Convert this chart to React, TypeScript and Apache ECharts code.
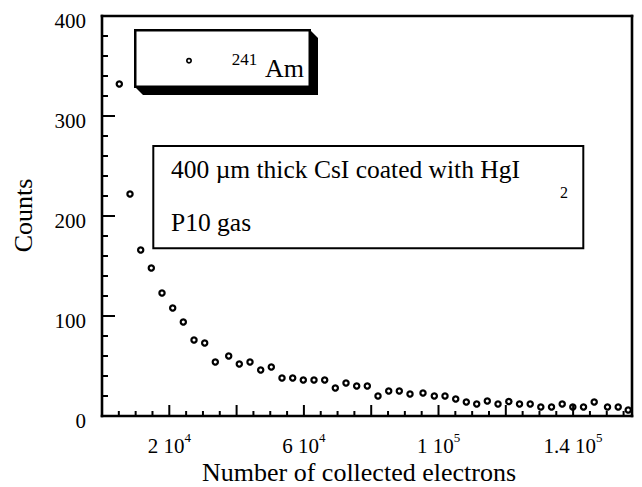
import React, { useEffect, useRef } from 'react';
import * as echarts from 'echarts';

const ELECTRONS = [
  5140, 8320, 11500, 14650, 17830, 21010, 24160, 27340, 30520, 33670,
  37650, 40800, 43980, 47160, 50310, 53490, 56670, 59820, 63000, 66180,
  69330, 72510, 75690, 78840, 82020, 85200, 88350, 91530, 95390, 98750,
  101930, 105110, 108260, 111350, 114500, 117680, 120890, 124070, 127250, 130400,
  133580, 136760, 139910, 143090, 146270, 150220, 153400, 156370,
];
const COUNTS = [
  332, 222, 166, 148, 123, 108, 94, 76, 73, 54,
  60, 52, 54, 46, 49, 38, 38, 36, 36, 36,
  28, 33, 30, 30, 20, 25, 25, 22, 23, 20,
  20, 17, 14, 12, 15, 12, 14.5, 12, 12, 9,
  9, 12, 9, 9, 14, 9, 9, 6,
];
const X_MIN = 0;
const X_MAX = 157500;
const X_MAJOR_STEP = 20000;
const X_MINOR_STEP = 5000;
const Y_MIN = 0;
const Y_MAX = 400;
const Y_MAJOR_STEP = 100;
const Y_MINOR_STEP = 20;
const X_LABEL_VALUES = [20000, 60000, 100000, 140000];
const X_LABEL_MANTISSA = ['2', '6', '1', '1.4'];
const X_LABEL_EXPONENT = ['4', '4', '5', '5'];
const LEGEND_MASS = '241';
const LEGEND_ELEMENT = 'Am';
const NOTE_LINE1 = '400 µm thick CsI coated with HgI';
const NOTE_SUB = '2';
const NOTE_LINE2 = 'P10 gas';
const X_TITLE = 'Number of collected electrons';
const Y_TITLE = 'Counts';

export default function App() {
  const ref = useRef<HTMLDivElement>(null);
  const overlayRef = useRef<HTMLDivElement>(null);
  useEffect(() => {
    const chart = echarts.init(ref.current!, null, { renderer: 'svg' });
    const overlay = echarts.init(overlayRef.current!, null, { renderer: 'svg' });
    const font = 'Liberation Serif';
    const black = '#000';
    const points = ELECTRONS.map((x, i) => [x, COUNTS[i]]);
    const option: any = {
      animation: false,
      backgroundColor: '#fff',
      grid: { left: 102, right: 10, top: 16, bottom: 71, outerBoundsMode: 'none' },
      xAxis: {
        type: 'value', min: X_MIN, max: X_MAX, interval: X_MAJOR_STEP, position: 'bottom',
        axisLine: { show: false, onZero: false },
        axisTick: { show: false },
        splitLine: { show: false },
        axisLabel: {
          margin: 15,
          formatter: (v: number) => {
            const i = X_LABEL_VALUES.indexOf(v);
            return i < 0 ? '' : `{m|${X_LABEL_MANTISSA[i]} 10}{e|${X_LABEL_EXPONENT[i]}}`;
          },
          rich: {
            m: { fontSize: 21, fontFamily: font, color: black, lineHeight: 25, verticalAlign: 'bottom' },
            e: { fontSize: 13, fontFamily: font, color: black, lineHeight: 13, verticalAlign: 'top' },
          },
        },
      },
      yAxis: {
        type: 'value', min: Y_MIN, max: Y_MAX, interval: Y_MAJOR_STEP,
        axisLine: { show: false, onZero: false },
        axisTick: { show: false },
        splitLine: { show: false },
        axisLabel: {
          margin: 16,
          formatter: '{v|{value}}',
          rich: { v: { fontSize: 21, fontFamily: font, color: black, padding: [9, 0, 0, 0] } },
        },
      },
      series: [
        {
          type: 'scatter',
          data: points,
          symbol: 'circle',
          symbolSize: 7.5,
          itemStyle: { color: black, borderWidth: 0, opacity: 1 },
          z: 2,
        },
        {
          type: 'scatter',
          data: points,
          symbol: 'circle',
          symbolSize: 3,
          itemStyle: { color: '#fff', borderWidth: 0, opacity: 1 },
          z: 3,
        },
      ],
    };
    chart.setOption(option);

    const px = (x: number, y: number) => chart.convertToPixel({ seriesIndex: 0 }, [x, y]) as number[];
    const [left, bottom] = px(X_MIN, Y_MIN);
    const [right, top] = px(X_MAX, Y_MAX);
    const bar = (x: number, y: number, w: number, h: number) => ({
      type: 'rect',
      shape: { x, y, width: w, height: h },
      style: { fill: black },
    });
    const frameW = 2.6;
    const marks: any[] = [
      bar(left - frameW / 2, top - frameW / 2, right - left + frameW, frameW),
      bar(left - frameW / 2, bottom - frameW / 2, right - left + frameW, frameW),
      bar(left - frameW / 2, top - frameW / 2, frameW, bottom - top + frameW),
      bar(right - frameW / 2, top - frameW / 2, frameW, bottom - top + frameW),
    ];
    for (let v = X_MIN; v <= X_MAX; v += X_MINOR_STEP) {
      const len = v % X_MAJOR_STEP === 0 ? 11 : 5;
      const x = px(v, Y_MIN)[0];
      marks.push(bar(x - 1, bottom - len, 2, len));
    }
    for (let v = Y_MIN; v <= Y_MAX; v += Y_MINOR_STEP) {
      const len = v % Y_MAJOR_STEP === 0 ? 13 : 6;
      const y = px(X_MIN, v)[1];
      marks.push(bar(left, y - 1, len, 2));
    }

    overlay.setOption({
      animation: false,
      graphic: [
        ...marks,
        {
          type: 'polygon',
          shape: { points: [[310, 30], [318, 38], [318, 95], [143, 95], [135, 87], [310, 87]] },
          style: { fill: black },
        },
        bar(134, 29, 177, 59),
        { type: 'rect', shape: { x: 136.5, y: 31.5, width: 172, height: 54 }, style: { fill: '#fff' } },
        { type: 'circle', shape: { cx: 189, cy: 60.7, r: 3 }, style: { fill: black } },
        { type: 'circle', shape: { cx: 189, cy: 60.7, r: 1.3 }, style: { fill: '#fff' } },
        {
          type: 'text', x: 231.7, y: 59.3,
          style: { text: LEGEND_MASS, font: `17px ${font}`, fill: black, align: 'left', verticalAlign: 'middle' },
        },
        {
          type: 'text', x: 265, y: 68.9,
          style: { text: LEGEND_ELEMENT, font: `26px ${font}`, fill: black, align: 'left', verticalAlign: 'middle' },
        },
        bar(152.3, 145, 432, 104.3),
        { type: 'rect', shape: { x: 154.3, y: 147, width: 428, height: 100.3 }, style: { fill: '#fff' } },
        {
          type: 'text', x: 171, y: 169.5,
          style: { text: NOTE_LINE1, font: `25.5px ${font}`, fill: black, align: 'left', verticalAlign: 'middle' },
        },
        {
          type: 'text', x: 560, y: 192.9,
          style: { text: NOTE_SUB, font: `16px ${font}`, fill: black, align: 'left', verticalAlign: 'middle' },
        },
        {
          type: 'text', x: 171, y: 222.5,
          style: { text: NOTE_LINE2, font: `25.5px ${font}`, fill: black, align: 'left', verticalAlign: 'middle' },
        },
        {
          type: 'text', x: 359, y: 472,
          style: { text: X_TITLE, font: `26px ${font}`, fill: black, align: 'center', verticalAlign: 'middle' },
        },
        {
          type: 'text', x: 23, y: 215.5, rotation: Math.PI / 2,
          style: { text: Y_TITLE, font: `26px ${font}`, fill: black, align: 'center', verticalAlign: 'middle' },
        },
      ],
    } as any);
    return () => {
      chart.dispose();
      overlay.dispose();
    };
  }, []);
  return (
    <>
      <div ref={ref} style={{ position: 'fixed', left: 0, top: 0, width: 642, height: 487 }} />
      <div
        ref={overlayRef}
        style={{ position: 'fixed', left: 0, top: 0, width: 642, height: 487, pointerEvents: 'none', zIndex: 1 }}
      />
    </>
  );
}
